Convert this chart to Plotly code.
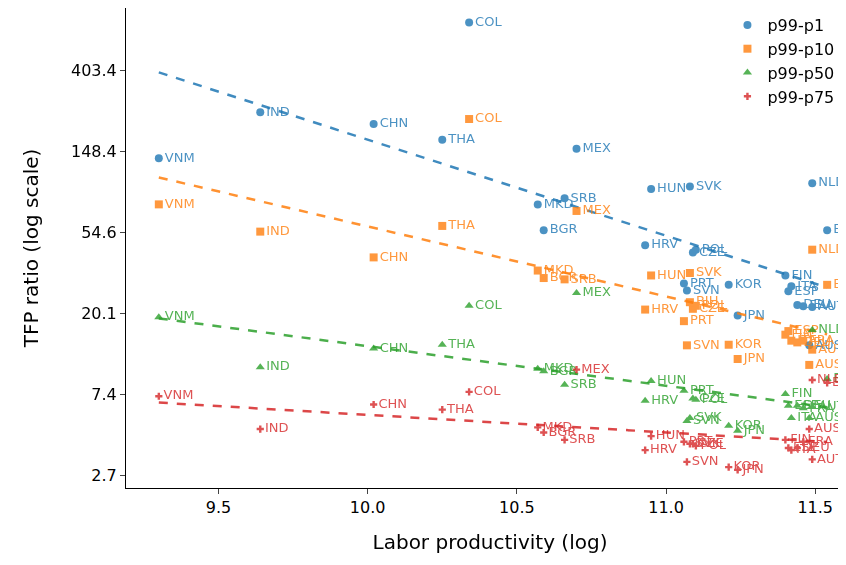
import numpy as np
import plotly.graph_objects as go

countries = ['VNM', 'IND', 'CHN', 'THA', 'COL', 'MKD', 'BGR', 'SRB', 'MEX', 'HRV',
             'HUN', 'SVK', 'PRT', 'SVN', 'CZE', 'POL', 'BIH', 'KOR', 'JPN', 'FIN',
             'ESP', 'ITA', 'DEU', 'FRA', 'AUT', 'AUS', 'NLD', 'BEL']
labor_prod = [9.30, 9.64, 10.02, 10.25, 10.34, 10.57, 10.59, 10.66, 10.70, 10.93,
              10.95, 11.08, 11.06, 11.07, 11.09, 11.10, 11.08, 11.21, 11.24, 11.40,
              11.41, 11.42, 11.44, 11.46, 11.49, 11.48, 11.49, 11.54]

p99_p1 = [136, 240, 208, 171, 728, 77, 56, 83, 153, 46.5,
          93, 96, 29, 26.6, 42.5, 44, None, 28.5, 19.5, 32,
          26.3, 28, 22.2, 21.9, 21.7, 13.5, 100, 56]
p99_p10 = [77, 55, 40, 59, 221, 34, 31, 30.5, 71, 21,
           32, 33, 18.2, 13.5, 21.2, 22, 23, 13.6, 11.4, 15.4,
           16.1, 14.3, 14.0, 14.3, 12.8, 10.6, 44, 28.5]
p99_p50 = [19.1, 10.3, 13, 13.6, 22, 10.1, 9.8, 8.3, 25.8, 6.8,
           8.7, 5.5, 7.7, 5.3, 7.0, 6.9, None, 5.0, 4.7, 7.4,
           6.4, 5.5, 6.4, 6.2, 6.3, 5.5, 16.3, 8.9]
p99_p75 = [7.2, 4.8, 6.5, 6.1, 7.6, 4.9, 4.6, 4.2, 10, 3.7,
           4.4, 4.0, 4.1, 3.2, 4.0, 3.9, None, 3.0, 2.9, 4.2,
           3.8, 3.7, 3.8, 4.1, 3.3, 4.8, 8.8, 8.5]

series = [('p99-p1', p99_p1, '#1f77b4', 'circle', 8),
          ('p99-p10', p99_p10, '#ff7f0e', 'square', 8),
          ('p99-p50', p99_p50, '#2ca02c', 'triangle-up', 8),
          ('p99-p75', p99_p75, '#d62728', 'cross', 6)]

fig = go.Figure()
for name, vals, color, symbol, size in series:
    xs = [x for x, v in zip(labor_prod, vals) if v is not None]
    ys = [v for v in vals if v is not None]
    labels = [c for c, v in zip(countries, vals) if v is not None]
    fig.add_trace(go.Scatter(
        x=xs, y=ys, mode='markers+text', name=name, text=labels,
        textposition='middle right', textfont=dict(size=13, color=color),
        marker=dict(symbol=symbol, size=size, color=color), opacity=0.8,
    ))
    # trend line in log space
    b, a = np.polyfit(xs, np.log(ys), 1)
    lx = np.array([min(labor_prod), max(labor_prod)])
    fig.add_trace(go.Scatter(
        x=lx, y=np.exp(a + b * lx), mode='lines', showlegend=False,
        line=dict(color=color, dash='dash', width=2.5), opacity=0.85,
    ))

tick_vals = [np.e ** k for k in range(1, 7)]
tick_text = ['%.1f' % v for v in tick_vals]

fig.update_layout(
    width=846, height=565, plot_bgcolor='white', paper_bgcolor='white',
    margin=dict(l=118, r=0, t=0, b=85),
    font=dict(family='DejaVu Sans', size=16, color='black'),
    legend=dict(x=0.98, y=1.0, xanchor='right', yanchor='top', font=dict(size=16),
                bgcolor='rgba(0,0,0,0)'),
    xaxis=dict(title=dict(text='Labor productivity (log)', standoff=18, font=dict(size=20)),
               range=[9.19, 11.63], dtick=0.5, automargin=False,
               tickformat='.1f', showgrid=False, showline=True, linecolor='black',
               ticks='outside', zeroline=False),
    yaxis=dict(title=dict(text='TFP ratio (log scale)', standoff=26, font=dict(size=20)),
               type='log', range=[0.365, 2.94], automargin=False,
               tickvals=tick_vals, ticktext=tick_text, showgrid=False, showline=True,
               linecolor='black', ticks='outside', zeroline=False),
)

fig.write_html('out.html')
